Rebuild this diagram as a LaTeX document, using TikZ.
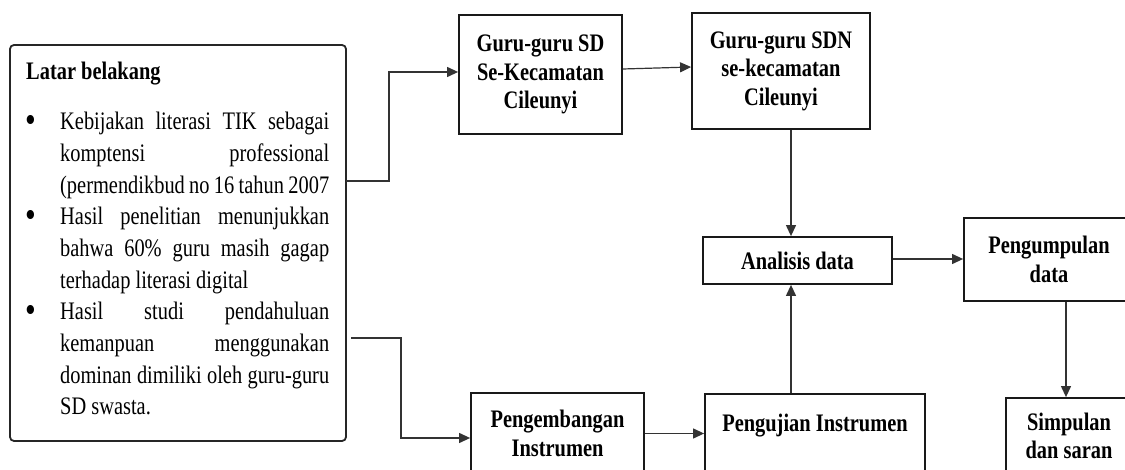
\documentclass[tikz,border=0pt]{standalone}
\usepackage{fontspec}
\usepackage{graphicx}
\setmainfont{Liberation Serif}[FakeStretch=0.81]
\usetikzlibrary{arrows.meta}
\newcommand\mybul{\makebox[34pt][l]{\hspace{-1pt}\raisebox{-2.5pt}{\scalebox{1.5}{\textbullet}}}}
\newcommand\myind{\makebox[34pt]{}}
\newcommand\myjl[1]{\makebox[269pt][s]{#1}}
\begin{document}
\begin{tikzpicture}[x=1pt,y=-1pt,
  box/.style={draw=black!90, line width=1.8pt, inner sep=0pt, align=center,
    font=\bfseries\fontsize{25.2}{28.5}\selectfont},
  conn/.style={draw=black!80, line width=1.2pt},
  arr/.style={conn, -{Triangle[length=11pt,width=10pt]}}]
\useasboundingbox (0,0) rectangle (1125,470);
\clip (0,0) rectangle (1125,470);

% left box
\node[draw=black!85, line width=1.8pt, rounded corners=4pt, minimum width=336pt,
  minimum height=396pt, inner sep=0pt] (lb) at (178,243) {};
\node[anchor=north west, inner sep=0pt, align=left,
  font=\fontsize{25.2}{31.7}\selectfont] (lbt) at (26,62) {%
\textbf{Latar belakang}\\[18.3pt]
\mybul\myjl{Kebijakan literasi TIK sebagai}\\
\myind\myjl{komptensi professional}\\
\myind\myjl{(permendikbud no 16 tahun 2007}\\
\mybul\myjl{Hasil penelitian menunjukkan}\\
\myind\myjl{bahwa 60\% guru masih gagap}\\
\myind terhadap literasi digital\\
\mybul\myjl{Hasil studi pendahuluan}\\
\myind\myjl{kemanpuan menggunakan}\\
\myind\myjl{dominan dimiliki oleh guru-guru}\\
\myind SD swasta.};

% boxes
\node[box, minimum width=163pt, minimum height=119pt] (b1) at (540.5,74.5) {Guru-guru SD\\Se-Kecamatan\\Cileunyi};
\node[box, minimum width=178pt, minimum height=116pt] (b2) at (781,71) {Guru-guru SDN\\se-kecamatan\\Cileunyi};
\node[box, minimum width=189pt, minimum height=47pt] (ana) at (797.5,260.5) {Analisis data};
\node[box, minimum width=170pt, minimum height=83pt] (kum) at (1049,259.5) {Pengumpulan\\data};
\node[box, minimum width=126pt, minimum height=76pt] (simp) at (1069,436) {Simpulan\\dan saran};
\node[box, minimum width=173pt, minimum height=81pt] (peng) at (557.5,433.5) {Pengembangan\\Instrumen};
\node[box, minimum width=220pt, minimum height=86pt] (uji) at (815,437) {Pengujian Instrumen\\\phantom{X}};

% connectors
\coordinate (o1) at (346,181);
\coordinate (o2) at (351,338);
\draw[arr] (o1) -- ++(43,0) |- ([yshift=2.5pt]b1.west);
\draw[arr] (o2) -- ++(50,0) |- ([yshift=-4.5pt]peng.west);
\draw[arr] ([yshift=5.5pt]b1.east) -- ([yshift=4pt]b2.west);
\draw[arr] ([xshift=10pt]b2.south) -- ([xshift=10pt]b2.south |- ana.north);
\draw[arr] ([xshift=-6.5pt]ana.south |- uji.north) -- ([xshift=-6.5pt]ana.south);
\draw[arr] ([yshift=1.5pt]ana.east) -- ([yshift=1.5pt]ana.east -| kum.west);
\draw[arr] ([xshift=-3pt]simp.north |- kum.south) -- ([xshift=-3pt]simp.north);
\draw[arr] (peng.east) -- (peng.east -| uji.west);
\end{tikzpicture}
\end{document}
